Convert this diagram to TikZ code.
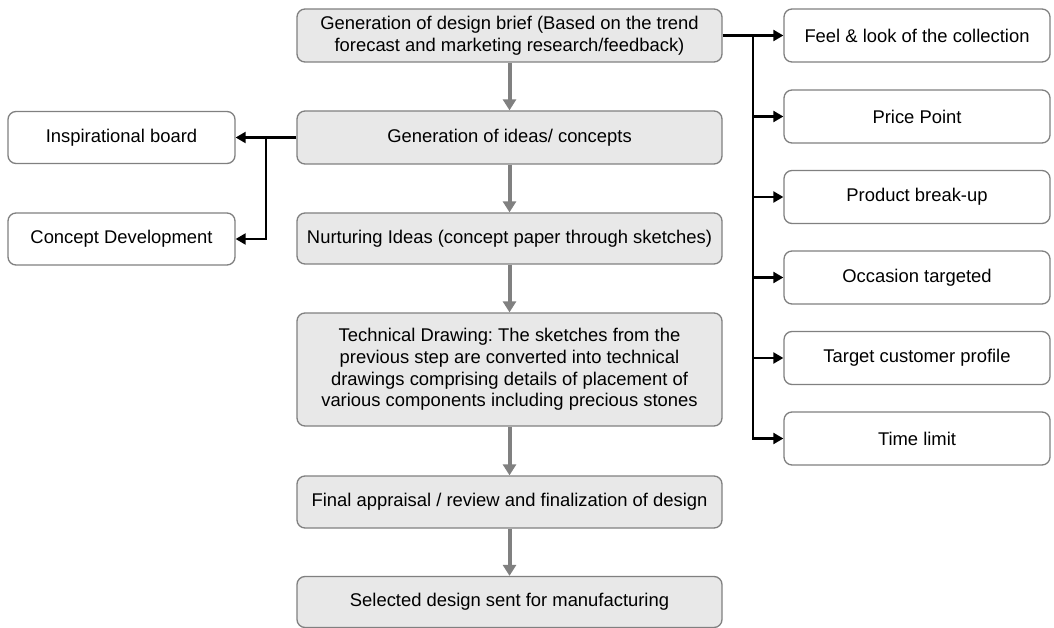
\documentclass[tikz,border=0pt]{standalone}
\usepackage{fontspec}
\setmainfont{Liberation Sans}
\usetikzlibrary{arrows.meta}
\frenchspacing
\begin{document}
\begin{tikzpicture}[x=1pt,y=-1pt,
  every node/.style={font=\fontsize{18.4}{21.7}\selectfont},
  mainbox/.style={draw=black!50, line width=1.3pt, fill=black!9, rounded corners=8pt, minimum width=425pt, align=center, inner sep=0pt},
  sidebox/.style={draw=black!50, line width=1.3pt, fill=white, rounded corners=8pt, align=center, inner sep=0pt},
  flow/.style={draw=black!50, line width=4pt, -{Triangle[length=11pt,width=13pt]}},
  link/.style={draw=black, line width=2.2pt, -{Triangle[length=10pt,width=11pt]}}
]
\useasboundingbox (0,0) rectangle (1054,628);
% main column
\node[mainbox, minimum height=53pt] (b1) at (509.5,35.5) {Generation of design brief (Based on the trend\\forecast and marketing research/feedback)};
\node[mainbox, minimum height=53pt] (b2) at (509.5,137.5) {Generation of ideas/ concepts};
\node[mainbox, minimum height=51pt] (b3) at (509.5,238.5) {Nurturing Ideas (concept paper through sketches)};
\node[mainbox, minimum height=113pt] (b4) at (509.5,369.5) {Technical Drawing: The sketches from the\\previous step are converted into technical\\drawings comprising details of placement of\\various components including precious stones};
\node[mainbox, minimum height=52pt] (b5) at (509.5,502) {Final appraisal / review and finalization of design};
\node[mainbox, minimum height=51pt] (b6) at (509.5,602) {Selected design sent for manufacturing};
% left
\node[sidebox, minimum width=227pt, minimum height=52pt] (l1) at (121.5,137.5) {Inspirational board};
\node[sidebox, minimum width=227pt, minimum height=52pt] (l2) at (121.5,239) {Concept Development};
% right
\node[sidebox, minimum width=266pt, minimum height=53pt] (r1) at (917,35.5) {Feel \& look of the collection};
\node[sidebox, minimum width=266pt, minimum height=53pt] (r2) at (917,116.5) {Price Point};
\node[sidebox, minimum width=266pt, minimum height=53pt] (r3) at (917,197) {Product break-up};
\node[sidebox, minimum width=266pt, minimum height=53pt] (r4) at (917,277.5) {Occasion targeted};
\node[sidebox, minimum width=266pt, minimum height=53pt] (r5) at (917,358) {Target customer profile};
\node[sidebox, minimum width=266pt, minimum height=53pt] (r6) at (917,438.5) {Time limit};
% flow arrows
\draw[flow] (b1.south) -- (b2.north);
\draw[flow] (b2.south) -- (b3.north);
\draw[flow] (b3.south) -- (b4.north);
\draw[flow] (b4.south) -- (b5.north);
\draw[flow] (b5.south) -- (b6.north);
% right connectors
\coordinate (jr) at (753,35.5);
\draw[link] (b1.east) -- (r1.west);
\draw[link] (jr) |- (r2.west);
\draw[link] (jr) |- (r3.west);
\draw[link] (jr) |- (r4.west);
\draw[link] (jr) |- (r5.west);
\draw[link] (jr) |- (r6.west);
% left connectors
\coordinate (jl) at (266,137.5);
\draw[link] (b2.west) -- (l1.east);
\draw[link] (jl) |- (l2.east);
\end{tikzpicture}
\end{document}
